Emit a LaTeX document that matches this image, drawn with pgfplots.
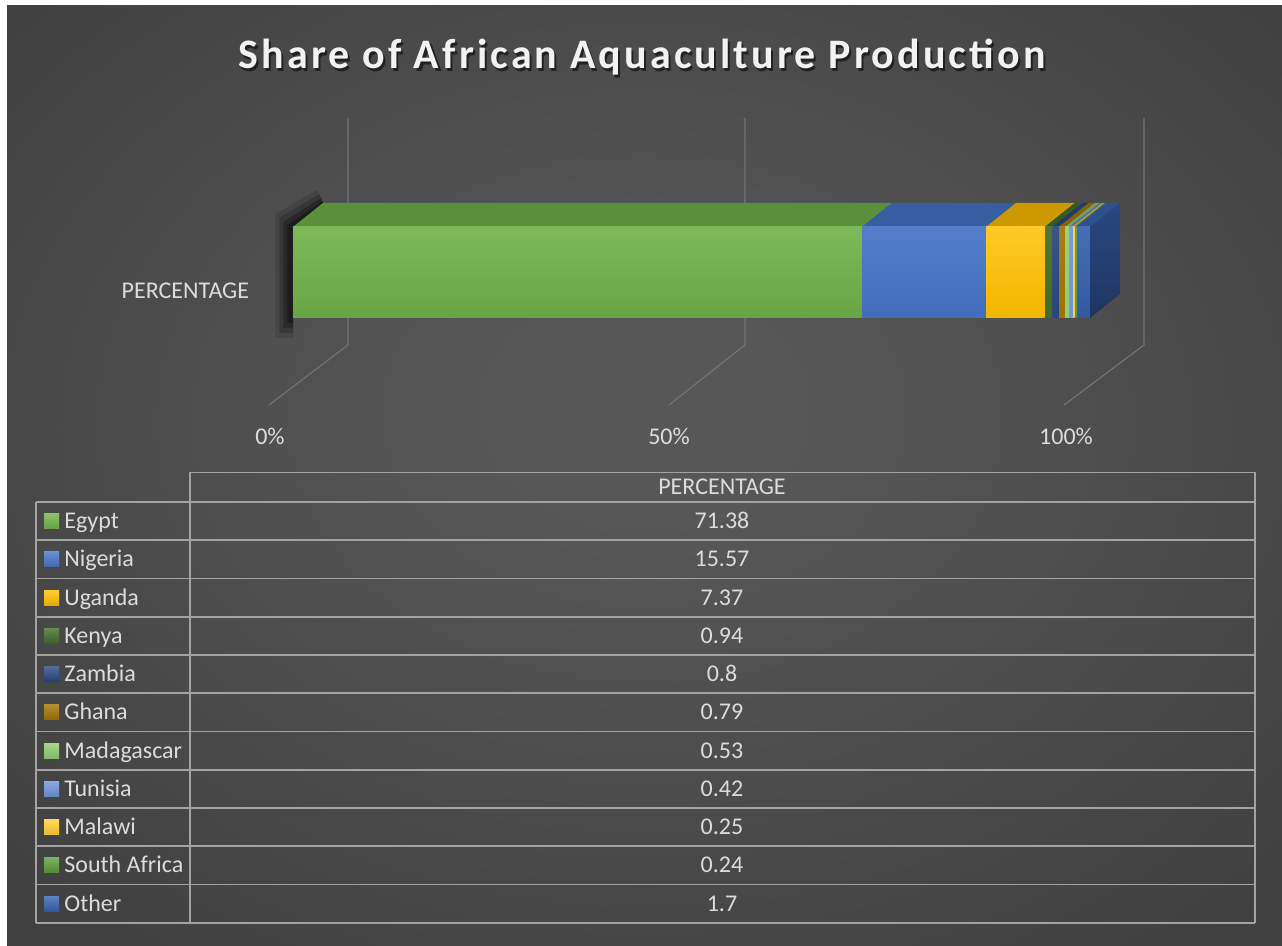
\documentclass[border=0pt]{standalone}
\usepackage{fontspec}
\setmainfont{Carlito}
\newfontfamily\titlefont[LetterSpace=7.5]{Carlito}
\usepackage{pgfplots}
\pgfplotsset{compat=1.18}

\definecolor{bgc}{HTML}{575757}
\definecolor{bgo}{HTML}{2A2A2A}
\definecolor{lbl}{HTML}{DCDCDC}
\definecolor{gridc}{HTML}{747474}
\definecolor{tabl}{HTML}{A3A3A3}

\definecolor{cEgypt}{HTML}{72B34A}
\definecolor{cNigeria}{HTML}{4473C5}
\definecolor{cUganda}{HTML}{FFC000}
\definecolor{cKenya}{HTML}{416B2A}
\definecolor{cZambia}{HTML}{27467F}
\definecolor{cGhana}{HTML}{9E7300}
\definecolor{cMadagascar}{HTML}{92CC74}
\definecolor{cTunisia}{HTML}{6E94D8}
\definecolor{cMalawi}{HTML}{FFCF33}
\definecolor{cSouthAfrica}{HTML}{5B9A3C}
\definecolor{cOther}{HTML}{3761AE}

\pgfdeclareradialshading{bgshade}{\pgfpoint{0bp}{4bp}}{color(0bp)=(bgc); color(6bp)=(bgc); color(62bp)=(bgo)}

\newcommand{\lblfont}{\fontsize{12pt}{14pt}\selectfont}

\begin{document}
\begin{tikzpicture}
% ---------- background and table (pixel coordinates, origin top-left)
\begin{scope}[x=0.5pt,y=-0.5pt,yshift=473pt]
  \fill[white] (0,0) rectangle (1282,946);
  \shade[shading=bgshade] (7,6) rectangle (1282,946);
  % title
  \node[anchor=base, text=black, opacity=0.55, font=\titlefont\bfseries\fontsize{21pt}{24pt}\selectfont] at (644,72) {Share of African Aquaculture Production};
  \node[anchor=base, text=white!95!black, font=\titlefont\bfseries\fontsize{21pt}{24pt}\selectfont] at (642,69) {Share of African Aquaculture Production};
  % table grid
  \begin{scope}[draw=tabl, line width=0.8pt]
    \draw (190,502) -- (190,472.5) -- (1255,472.5) -- (1255,922.75);
    \draw (190,502) -- (190,922.75);
    \draw (36,502) -- (36,922.75);
    \foreach \k in {0,...,11} {
      \draw (36,502+38.25*\k) -- (1255,502+38.25*\k);
    }
  \end{scope}
  \node[anchor=base, text=lbl, font=\lblfont] at (722,494.5) {PERCENTAGE};
  \foreach \name/\val/\col [count=\i from 0] in {
      Egypt/71.38/cEgypt, Nigeria/15.57/cNigeria, Uganda/7.37/cUganda,
      Kenya/0.94/cKenya, Zambia/0.8/cZambia, Ghana/0.79/cGhana,
      Madagascar/0.53/cMadagascar, Tunisia/0.42/cTunisia, Malawi/0.25/cMalawi,
      South Africa/0.24/cSouthAfrica, Other/1.7/cOther} {
    \pgfmathsetmacro{\c}{502+38.25*(\i+0.5)}
    \shade[top color=\col!80!white, bottom color=\col!90!black] (44,\c-7.5) rectangle (59,\c+7.5);
    \node[anchor=base west, inner sep=0pt, text=lbl, font=\lblfont] at (64,\c+7.5) {\name};
    \node[anchor=base, inner sep=0pt, text=lbl, font=\lblfont] at (722,\c+7.5) {\val};
  }
\end{scope}

% ---------- gridlines, depth faces, labels (x in percent, y in pixels from bottom)
\begin{axis}[
  at={(126.575pt,263pt)}, anchor=south west,
  scale only axis, width=458.275pt, height=160pt,
  xmin=-5, xmax=110, ymin=526, ymax=846,
  axis line style={draw=none}, tick style={draw=none},
  xtick={-2.89,47.18,96.99}, xticklabels={0\%,50\%,100\%},
  xticklabel style={anchor=center, yshift=-8pt, font=\lblfont, text=lbl},
  ytick={655}, yticklabels={PERCENTAGE},
  yticklabel style={font=\lblfont, text=lbl, xshift=1.5pt},
  clip=false,
]
  % back wall and floor grid lines
  \addplot[draw=gridc, line width=0.55pt] coordinates {(6.90,828) (6.90,601) (-3.01,541)};
  \addplot[draw=gridc, line width=0.55pt] coordinates {(56.71,828) (56.71,601) (47.18,541)};
  \addplot[draw=gridc, line width=0.55pt] coordinates {(106.78,828) (106.78,601) (96.74,541)};
  % soft shadow at the left end
  \addplot[fill=black, draw=none, fill opacity=0.12] coordinates {(-2.2,608) (0,608) (0,719) (3.764,743) (3.0,756) (-2.2,732)};
  \addplot[fill=black, draw=none, fill opacity=0.18] coordinates {(-1.7,613) (0,613) (0,719) (3.764,743) (3.3,752) (-1.7,728)};
  \addplot[fill=black, draw=none, fill opacity=0.25] coordinates {(-1.2,618) (0,618) (0,719) (3.764,743) (3.5,748) (-1.2,724)};
  \addplot[fill=black, draw=none, fill opacity=0.3] coordinates {(-0.7,623) (0,623) (0,719) (3.764,743) (3.7,745) (-0.7,721)};
  % top faces
  \addplot[fill=cEgypt!80!black, draw=none] coordinates {(0,719) (71.38,719) (75.144,743) (3.764,743)};
  \addplot[fill=cNigeria!82!black, draw=none] coordinates {(71.38,719) (86.95,719) (90.714,743) (75.144,743)};
  \addplot[fill=cUganda!80!black, draw=none] coordinates {(86.95,719) (94.32,719) (98.084,743) (90.714,743)};
  \addplot[fill=cKenya!85!black, draw=none] coordinates {(94.32,719) (95.26,719) (99.024,743) (98.084,743)};
  \addplot[fill=cZambia!85!black, draw=none] coordinates {(95.26,719) (96.06,719) (99.824,743) (99.024,743)};
  \addplot[fill=cGhana!85!black, draw=none] coordinates {(96.06,719) (96.85,719) (100.614,743) (99.824,743)};
  \addplot[fill=cMadagascar!80!black, draw=none] coordinates {(96.85,719) (97.38,719) (101.144,743) (100.614,743)};
  \addplot[fill=cTunisia!80!black, draw=none] coordinates {(97.38,719) (97.80,719) (101.564,743) (101.144,743)};
  \addplot[fill=cMalawi!80!black, draw=none] coordinates {(97.80,719) (98.05,719) (101.814,743) (101.564,743)};
  \addplot[fill=cSouthAfrica!80!black, draw=none] coordinates {(98.05,719) (98.29,719) (102.054,743) (101.814,743)};
  \addplot[fill=cOther!82!black, draw=none] coordinates {(98.29,719) (99.99,719) (103.754,743) (102.054,743)};
  % right side face
  \addplot[top color=cOther!75!black, bottom color=cOther!55!black, draw=none] coordinates {(99.99,628) (99.99,719) (103.754,743) (103.754,652)};
\end{axis}

% ---------- front faces: stacked bar
\begin{axis}[
  at={(126.575pt,263pt)}, anchor=south west,
  scale only axis, width=458.275pt, height=160pt,
  xmin=-5, xmax=110, ymin=526, ymax=846,
  hide axis, clip=false,
  xbar stacked, bar width=91,
]
  \addplot[xbar stacked, draw=none, top color=cEgypt!92!white, bottom color=cEgypt!92!black] coordinates {(71.38,673.5)};
  \addplot[xbar stacked, draw=none, top color=cNigeria!92!white, bottom color=cNigeria!95!black] coordinates {(15.57,673.5)};
  \addplot[xbar stacked, draw=none, top color=cUganda!85!white, bottom color=cUganda!95!black] coordinates {(7.37,673.5)};
  \addplot[xbar stacked, draw=none, top color=cKenya!92!white, bottom color=cKenya] coordinates {(0.94,673.5)};
  \addplot[xbar stacked, draw=none, top color=cZambia!92!white, bottom color=cZambia] coordinates {(0.8,673.5)};
  \addplot[xbar stacked, draw=none, top color=cGhana!92!white, bottom color=cGhana] coordinates {(0.79,673.5)};
  \addplot[xbar stacked, draw=none, top color=cMadagascar!92!white, bottom color=cMadagascar] coordinates {(0.53,673.5)};
  \addplot[xbar stacked, draw=none, top color=cTunisia!92!white, bottom color=cTunisia] coordinates {(0.42,673.5)};
  \addplot[xbar stacked, draw=none, top color=cMalawi!92!white, bottom color=cMalawi] coordinates {(0.25,673.5)};
  \addplot[xbar stacked, draw=none, top color=cSouthAfrica!92!white, bottom color=cSouthAfrica] coordinates {(0.24,673.5)};
  \addplot[xbar stacked, draw=none, top color=cOther!92!white, bottom color=cOther!92!black] coordinates {(1.7,673.5)};
\end{axis}

\pgfresetboundingbox
\useasboundingbox (0,0) rectangle (641pt,473pt);
\end{tikzpicture}
\end{document}
